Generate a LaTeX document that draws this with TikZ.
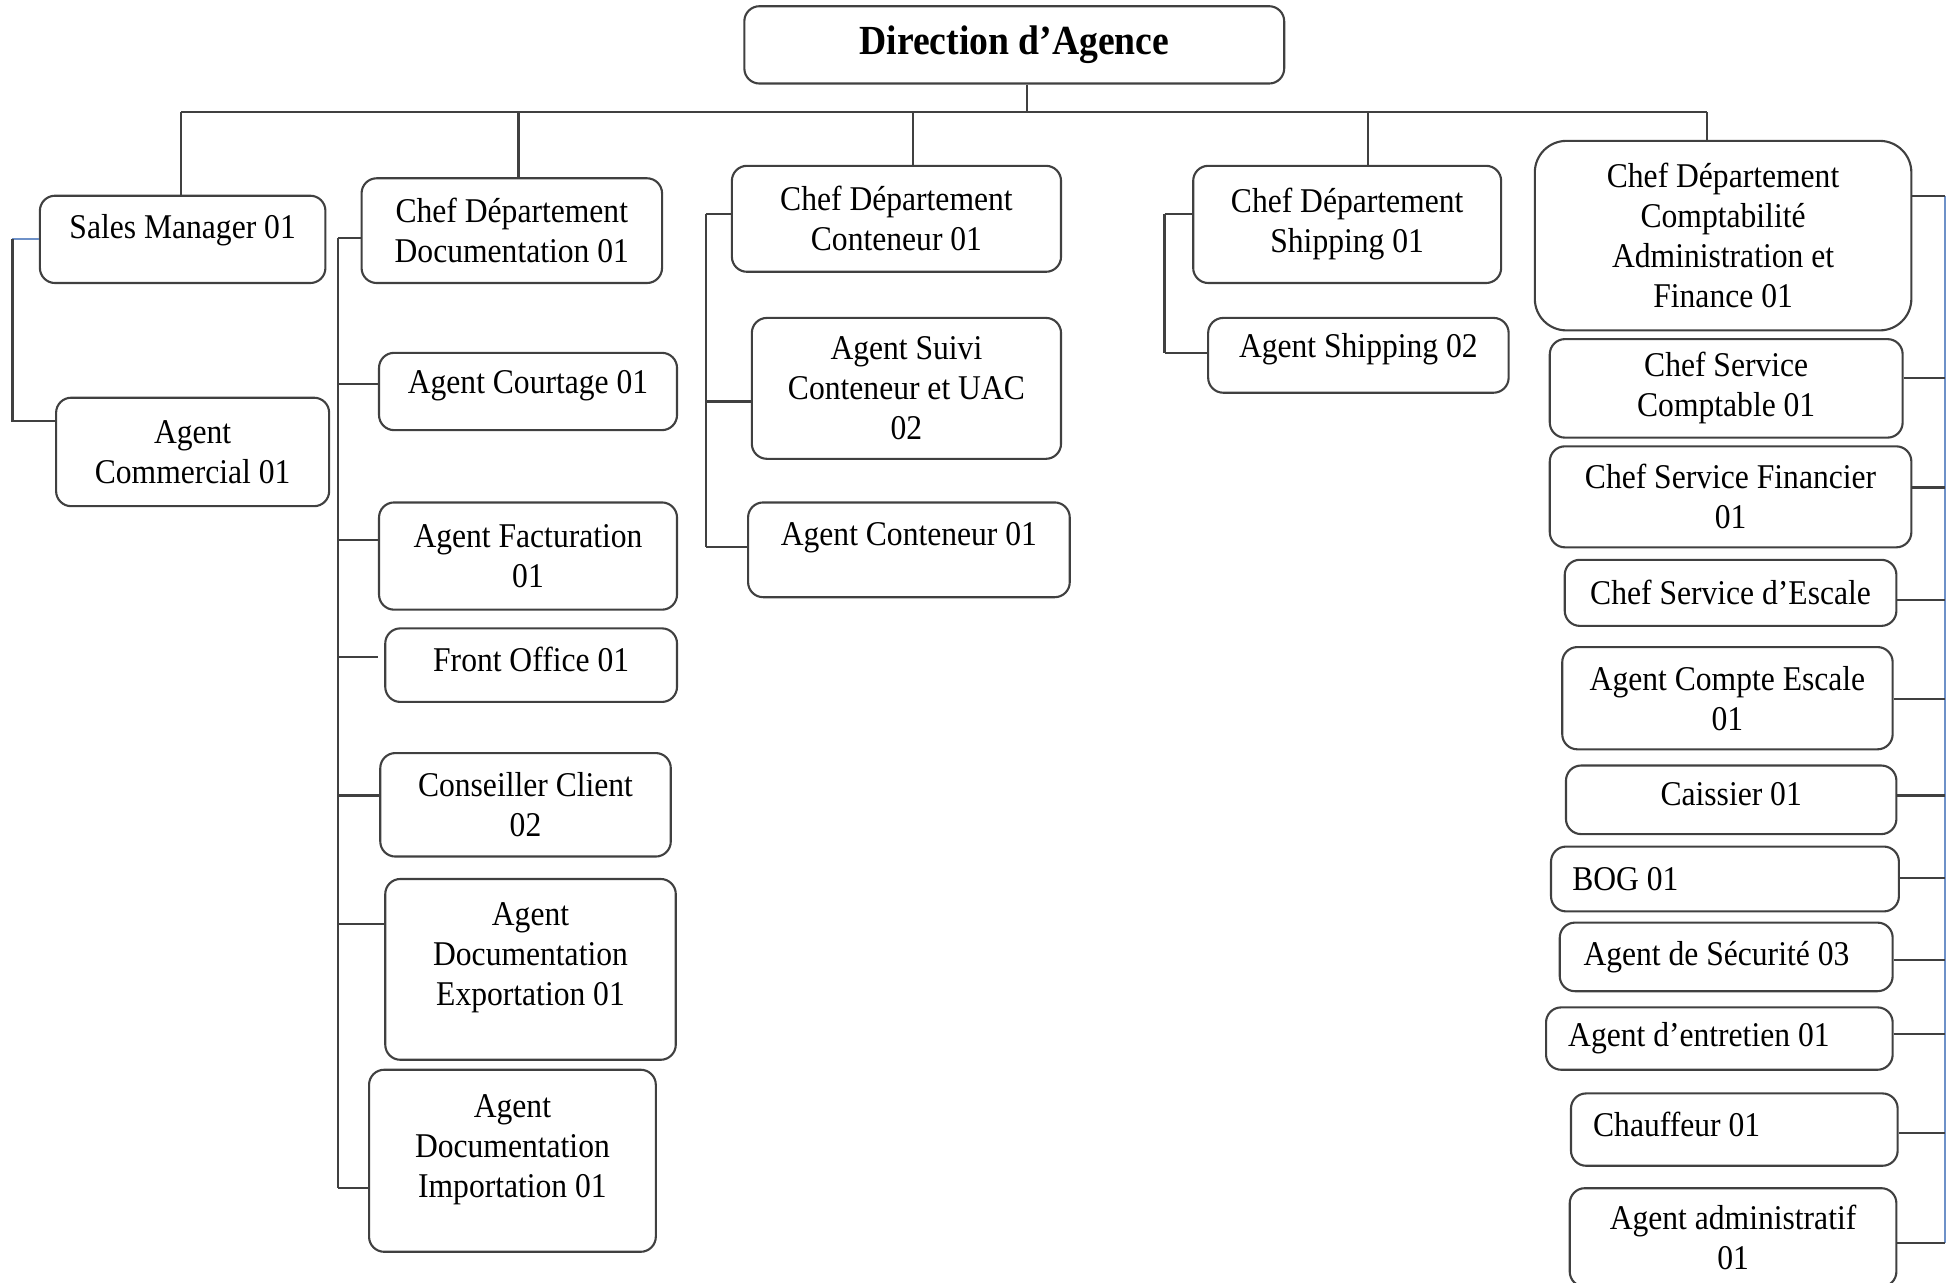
\documentclass[tikz,border=0pt]{standalone}
\usepackage{fontspec}
\setmainfont{Liberation Serif}[FakeStretch=0.91]
\definecolor{linkblue}{RGB}{110,145,200}

\begin{document}
\begin{tikzpicture}[
  x=0.0125cm, y=-0.0125cm,
  box/.style={draw=black!75, line width=0.6pt, rounded corners=4.3pt,
              inner sep=0pt, align=center,
              font=\fontsize{9.9pt}{11.4pt}\selectfont},
  lbox/.style={box, align=flush left, text width=#1},
  sz/.style 2 args={minimum width=#1*0.0125cm, minimum height=#2*0.0125cm},
  link/.style={draw=black!75, line width=0.6pt},
  blink/.style={draw=linkblue, line width=0.6pt}
]
\useasboundingbox (0,0) rectangle (1568,1029);

% Top box
\node[box, sz={433}{62},
      font=\fontsize{11.8pt}{14pt}\selectfont\bfseries] (dir) at (813.5,36) {Direction d’Agence};

% Sales
\node[box, sz={229}{70}, text depth=7.2pt] (sm) at (146.5,192) {Sales Manager 01};
\node[box, sz={219}{87}] (ac) at (154.5,362.5) {Agent\\Commercial 01};

% Documentation
\node[box, sz={241}{84}] (cdoc) at (410.5,185) {Chef Département\\Documentation 01};
\node[box, sz={239}{62}, text depth=5.7pt] (acou) at (423.5,314) {Agent Courtage 01};
\node[box, sz={239}{86}] (afac) at (423.5,446) {Agent Facturation\\01};
\node[box, sz={234}{59}, text depth=3.6pt] (fo) at (426,533.5) {Front Office 01};
\node[box, sz={233}{83}] (cc) at (421.5,645.5) {Conseiller Client\\02};
\node[box, sz={233}{145}, text depth=9pt] (aexp) at (425.5,777.5) {Agent\\Documentation\\Exportation 01};
\node[box, sz={230}{146}, text depth=8.3pt] (aimp) at (411,931) {Agent\\Documentation\\Importation 01};

% Conteneur
\node[box, sz={264}{85}] (ccont) at (719,175.5) {Chef Département\\Conteneur 01};
\node[box, sz={248}{113}] (asuiv) at (727,311.5) {Agent Suivi\\Conteneur et UAC\\02};
\node[box, sz={258}{76}, text depth=8.8pt] (acont) at (729,441) {Agent Conteneur 01};

% Shipping
\node[box, sz={247}{94}] (cship) at (1080.5,180) {Chef Département\\Shipping 01};
\node[box, sz={241}{60}, text depth=5.7pt] (aship) at (1089.5,285) {Agent Shipping 02};

% Comptabilite / Administration / Finance
\node[box, sz={302}{152}, rounded corners=9pt] (cfin) at (1382,189)
  {Chef Département\\Comptabilité\\Administration et\\Finance 01};
\node[box, sz={283}{79}] (csc) at (1384.5,311.5) {Chef Service\\Comptable 01};
\node[box, sz={290}{81}] (csf) at (1388,398.5) {Chef Service Financier\\01};
\node[box, sz={266}{53}] (cse) at (1388,475.5) {Chef Service d’Escale};
\node[box, sz={265}{82}] (ace) at (1385.5,560) {Agent Compte Escale\\01};
\node[box, sz={265}{55}, text depth=3.2pt] (cai) at (1388.5,641.5) {Caissier 01};
\node[lbox=3.06cm, sz={279}{52}] (bog) at (1383.5,705) {BOG 01};
\node[lbox=2.86cm, sz={267}{55}] (asec) at (1384.5,767.5) {Agent de Sécurité 03};
\node[lbox=3.03cm, sz={278}{50}] (aent) at (1379,833) {Agent d’entretien 01};
\node[lbox=2.83cm, sz={262}{58}, text depth=2.8pt] (chf) at (1391,906) {Chauffeur 01};
\node[box, sz={262}{79}] (aadm) at (1390,992.5) {Agent administratif\\01};

% Bus from the top box
\coordinate (bus) at (824,90);
\draw[link] (bus |- dir.south) -- (bus);
\draw[link] (145,90) -- (1369,90);
\draw[link] (145,90) -- (145,90 |- sm.north);
\draw[link, line width=1pt] (416,90) -- (416,90 |- cdoc.north);
\draw[link] (732,90) -- (732,90 |- ccont.north);
\draw[link] (1097,90) -- (1097,90 |- cship.north);
\draw[link] (1369,90) -- (1369,90 |- cfin.north);

% Sales branch
\draw[blink] (sm.west) -- (10,192);
\draw[link] (10,192) -- (10,338) -- (10,338 -| ac.west);

% Documentation branch
\draw[link] (271,191) -- (271,953);
\foreach \y/\n in {191/cdoc, 308/acou, 433/afac, 638/cc, 741/aexp, 953/aimp}
  \draw[link] (271,\y) -- (271,\y -| \n.west);
\coordinate (foend) at (303,527);
\draw[link] (271,527) -- (foend);

% Conteneur branch
\draw[link] (566,172) -- (566,439);
\foreach \y/\n in {172/ccont, 322/asuiv, 439/acont}
  \draw[link] (566,\y) -- (566,\y -| \n.west);

% Shipping branch
\draw[link] (934,172) -- (934,283);
\foreach \y/\n in {172/cship, 283/aship}
  \draw[link] (934,\y) -- (934,\y -| \n.west);

% Finance branch
\draw[blink] (1560,157) -- (1560,997);
\foreach \y/\n in {157/cfin, 303/csc, 391/csf, 481/cse, 561/ace, 638/cai,
                   704/bog, 770/asec, 829/aent, 909/chf, 997/aadm}
  \draw[link] (1560,\y -| \n.east) -- (1560,\y);
\end{tikzpicture}
\end{document}
